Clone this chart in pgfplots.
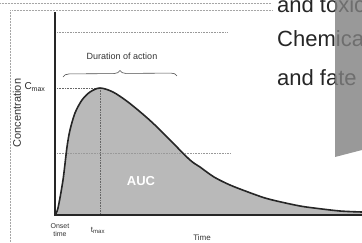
\documentclass[border=0pt]{standalone}
\usepackage{pgfplots}
\pgfplotsset{compat=1.18}
\usepackage{fontspec}
\setmainfont{Liberation Sans}
\usetikzlibrary{decorations.pathreplacing}
\begin{document}
\begin{tikzpicture}
\begin{axis}[at={(0,0)},anchor=south west,scale only axis,width=362pt,height=242pt,
  xmin=0,xmax=362,ymin=-27,ymax=215,hide axis,clip=false]
% frame dotted lines
\draw[densely dotted, gray!70, line width=0.5pt] (axis cs:0,212) -- (axis cs:271,212);
\draw[densely dotted, gray!70, line width=0.5pt] (axis cs:12,205) -- (axis cs:273,205);
\draw[densely dotted, gray!70, line width=0.5pt] (axis cs:10,205) -- (axis cs:10,-27);
% area under curve
\addplot[fill=gray!55, draw=none, smooth] coordinates {
(55,0) (58,7) (63,35) (67,68) (70,85) (75,102) (82,115) (90,123) (100,127)
(113,123) (128,113) (145,99) (157,88) (170,75) (190,55) (200,48) (214,38) (230,30)
(248,23) (265,17) (281,13) (300,9) (314,7) (340,4) (362,3)} \closedcycle;
% reference lines
\draw[densely dotted, gray!80, line width=0.6pt] (axis cs:57,183) -- (axis cs:228,183);
\draw[densely dotted, gray!80, line width=0.6pt] (axis cs:57,62) -- (axis cs:230,62);
\draw[densely dotted, gray!80!black, line width=0.6pt] (axis cs:57,127) -- (axis cs:100,127);
\draw[densely dotted, gray!80!black, line width=0.6pt] (axis cs:100,127) -- (axis cs:100,0);
% curve
\addplot[black!85, line width=1.6pt, smooth] coordinates {
(55,0) (58,7) (63,35) (67,68) (70,85) (75,102) (82,115) (90,123) (100,127)
(113,123) (128,113) (145,99) (157,88) (170,75) (190,55) (200,48) (214,38) (230,30)
(248,23) (265,17) (281,13) (300,9) (314,7) (340,4) (362,3)};
% axes
\draw[line width=2.4pt, black!85] (axis cs:55,203) -- (axis cs:55,0) -- (axis cs:362,0);
% brace
\draw[gray!60!black, line width=0.6pt, decorate, decoration={brace, amplitude=6pt}]
  (axis cs:63,138) -- (axis cs:177,139);
\node[font=\fontsize{9}{10}\selectfont, text=black!80] at (axis cs:122,159) {Duration of action};
\node[font=\fontsize{10}{11}\selectfont, text=black!85] at (axis cs:35,128) {C\textsubscript{max}};
\node[font=\fontsize{11}{12}\selectfont, text=black!80, rotate=90] at (axis cs:17,102) {Concentration};
\node[font=\fontsize{7}{8}\selectfont, text=black!80, align=center] at (axis cs:60,-15) {Onset\\time};
\node[font=\fontsize{8}{9}\selectfont, text=black!80] at (axis cs:98,-15) {t\textsubscript{max}};
\node[font=\fontsize{8}{9}\selectfont, text=black!80] at (axis cs:202,-23) {Time};
\node[font=\bfseries\fontsize{13}{14}\selectfont, text=white] at (axis cs:141,34) {AUC};
% slide text
\node[font=\fontsize{22}{24}\selectfont, text=black!85, anchor=base west, inner sep=0pt] at (axis cs:277,203) {and toxicity};
\node[font=\fontsize{22}{24}\selectfont, text=black!85, anchor=base west, inner sep=0pt] at (axis cs:277,169) {Chemical};
\node[font=\fontsize{22}{24}\selectfont, text=black!85, anchor=base west, inner sep=0pt] at (axis cs:277,130) {and fate};
\addplot[fill=gray, fill opacity=0.8, draw=none] coordinates {(335,215) (362,215) (362,65) (335,58)} -- cycle;
\end{axis}
\pgfresetboundingbox
\path (0,0) rectangle (362pt,242pt);
\end{tikzpicture}
\end{document}
